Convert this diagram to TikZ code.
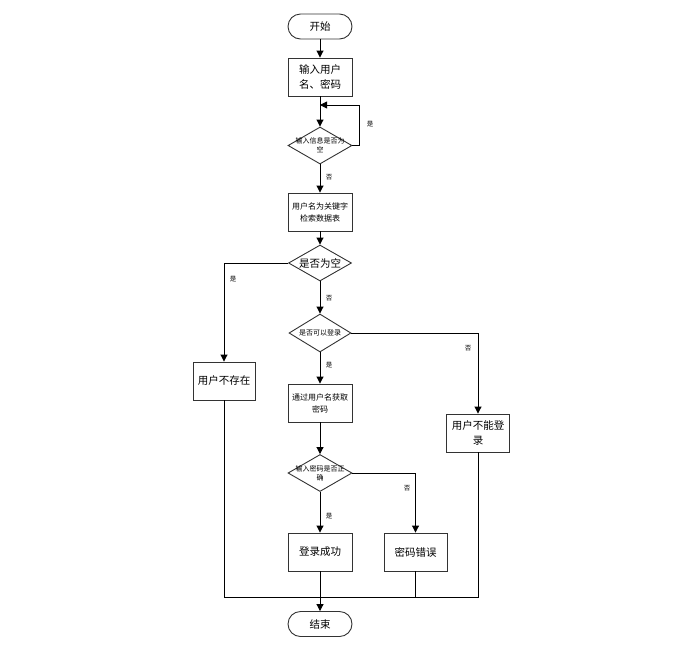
\documentclass[tikz,border=0pt]{standalone}
\usepackage{fontspec}
\setmainfont{Noto Sans CJK SC}
\usetikzlibrary{arrows.meta,positioning,shapes.geometric}
\begin{document}
\begin{tikzpicture}[x=1pt,y=-1pt,
  line width=0.9pt,
  arr/.style={-{Triangle[length=7pt,width=7pt]}},
  term/.style={draw=black!80, rounded corners=12.5pt, minimum width=64pt, minimum height=25pt, inner sep=0pt, font=\fontsize{10.5}{12}\selectfont},
  proc/.style={draw=black!80, minimum width=64pt, minimum height=38pt, inner sep=1pt, align=center},
  dec/.style={draw=black!80, shape=diamond, aspect=1.7, minimum width=64pt, minimum height=37pt, inner sep=0pt, align=center},
  big/.style={font=\fontsize{10.5}{15}\selectfont},
  mid/.style={font=\fontsize{8}{12}\selectfont},
  sml/.style={font=\fontsize{7}{9}\selectfont},
  lab/.style={font=\fontsize{6.5}{8}\selectfont, inner sep=0pt}
]
\useasboundingbox (0,0) rectangle (687,657);
\node[term] (start) at (320,26.5) {开始};
\node[proc,big] (input) at (320,77) {输入用户\\名、密码};
\node[dec,sml] (d1) at (320,145.5) {\makebox[0pt]{输入信息是否为}\\空};
\node[proc,mid] (search) at (320,212) {用户名为关键字\\检索数据表};
\node[dec,big, minimum width=63pt, minimum height=36pt] (d2) at (320,263) {\makebox[0pt]{是否为空}};
\node[dec,sml, minimum width=62pt, minimum height=38pt] (d3) at (320,333) {\makebox[0pt]{是否可以登录}};
\node[proc,big, minimum width=62pt] (nouser) at (224,381) {用户不存在};
\node[proc,mid] (getpw) at (320,403) {通过用户名获取\\密码};
\node[proc,big, minimum width=63pt, text width=56pt] (cannot) at (478,433) {用户不能登\\录};
\node[dec,sml] (d4) at (320,473) {\makebox[0pt]{输入密码是否正}\\确};
\node[proc,big] (ok) at (320,552) {登录成功};
\node[proc,big, minimum width=63pt] (wrong) at (415.5,552) {密码错误};
\node[term] (end) at (320,624) {结束};

\coordinate (loopin) at (320,105);
\coordinate (join) at (320,597);

\draw[arr] (start) -- (input);
\draw (input.south) -- (loopin);
\draw[arr] (loopin) -- (d1.north);
\draw[arr] (d1.east) -- (359,145.5) -- (359,105) -- (loopin);
\node[lab] at (370,124) {是};
\draw[arr] (d1) -- (search);
\node[lab] at (329,177) {否};
\draw[arr] (search) -- (d2);
\draw[arr] (d2.west) -| (nouser.north);
\node[lab] at (233,279) {是};
\draw[arr] (d2) -- (d3);
\node[lab] at (329,298) {否};
\draw[arr] (d3.east) -| (cannot.north);
\node[lab] at (468,348) {否};
\draw[arr] (d3) -- (getpw);
\node[lab] at (329,365) {是};
\draw[arr] (getpw) -- (d4);
\draw[arr] (d4.east) -| (wrong.north);
\node[lab] at (407,488) {否};
\draw[arr] (d4) -- (ok);
\node[lab] at (329,516) {是};
\draw[arr] (ok) -- (end);
\draw (nouser.south) |- (join);
\draw (cannot.south) |- (join);
\draw (wrong.south) -- (wrong.south |- join);
\end{tikzpicture}
\end{document}
